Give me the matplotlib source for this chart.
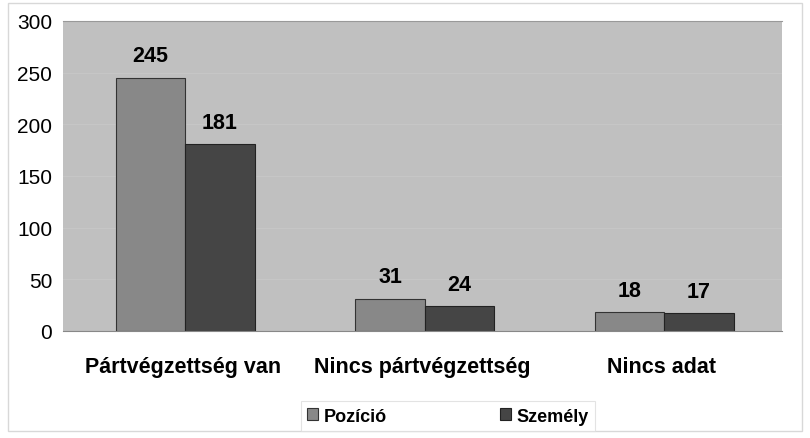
import matplotlib.pyplot as plt
import numpy as np
from matplotlib.patches import Rectangle

categories = ['Pártvégzettség van', 'Nincs pártvégzettség', 'Nincs adat']
pozicio = [245, 31, 18]
szemely = [181, 24, 17]
series_names = ['Pozíció', 'Személy']

plt.rcParams['font.family'] = ['Liberation Sans', 'DejaVu Sans']

fig = plt.figure(figsize=(8.1, 4.39), dpi=100)
fig.patches.append(Rectangle((0.01, 0.015), 0.98, 0.975, transform=fig.transFigure,
                             fill=False, edgecolor='#d8d8d8', lw=1))
ax = fig.add_axes([0.078, 0.244, 0.887, 0.706])
ax.set_facecolor('#c0c0c0')

x = np.arange(len(categories))
w = 0.29
b1 = ax.bar(x - w / 2 + 0.01, pozicio, w, color='#888888', edgecolor='#333333', lw=0.8, label=series_names[0])
b2 = ax.bar(x + w / 2 + 0.01, szemely, w, color='#454545', edgecolor='#222222', lw=0.8, label=series_names[1])

for bars in (b1, b2):
    for r in bars:
        ax.text(r.get_x() + r.get_width() / 2, r.get_height() + 11, str(int(r.get_height())),
                ha='center', va='bottom', fontsize=15.5, fontweight='bold')

ax.set_xlim(-0.5, 2.5)
ax.set_ylim(0, 300)
ax.set_yticks(range(0, 301, 50))
ax.yaxis.grid(True, color='#c6c6c6', lw=0.8)
ax.set_axisbelow(True)
ax.set_xticks(x)
ax.set_xticklabels(categories, fontsize=15.5, fontweight='bold')
ax.tick_params(axis='x', length=0, pad=18)
ax.tick_params(axis='y', labelsize=15, length=0, pad=8)
for s in ax.spines.values():
    s.set_visible(False)
ax.spines['top'].set_visible(True)
ax.spines['top'].set_color('#999999')
ax.spines['bottom'].set_visible(True)
ax.spines['bottom'].set_color('#888888')

leg = fig.legend(loc='center', bbox_to_anchor=(0.553, 0.05), ncol=2, frameon=True,
                 fancybox=False, edgecolor='#dddddd', prop={'weight': 'bold', 'size': 13},
                 handlelength=0.6, handleheight=0.6, columnspacing=6.3, handletextpad=0.3,
                 borderpad=0.35, borderaxespad=0)
leg.get_frame().set_linewidth(0.8)
for t in leg.get_texts():
    pass

fig.savefig('out.png', dpi=100)
